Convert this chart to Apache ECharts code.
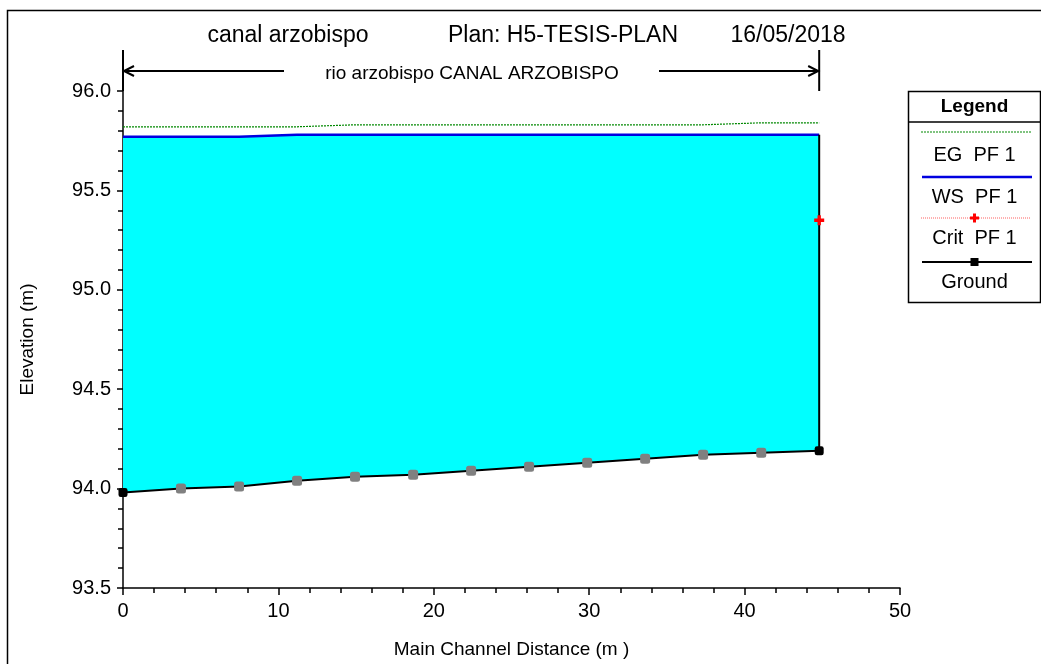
<!DOCTYPE html>
<html>
<head>
<meta charset="utf-8">
<script src="https://cdn.jsdelivr.net/npm/echarts@6/dist/echarts.min.js"></script>
<style>
html,body{margin:0;padding:0;background:#fff;}
#c{width:1041px;height:664px;}
</style>
</head>
<body>
<div id="c"></div>
<script>
// ---- data ----
const stations = [0, 3.73, 7.47, 11.2, 14.93, 18.67, 22.4, 26.13, 29.87, 33.6, 37.33, 41.07, 44.8];
const ground   = [93.98, 94.00, 94.01, 94.04, 94.06, 94.07, 94.09, 94.11, 94.13, 94.15, 94.17, 94.18, 94.19];
const wsPF1    = [95.77, 95.77, 95.77, 95.78, 95.78, 95.78, 95.78, 95.78, 95.78, 95.78, 95.78, 95.78, 95.78];
const egPF1    = [95.82, 95.82, 95.82, 95.82, 95.83, 95.83, 95.83, 95.83, 95.83, 95.83, 95.83, 95.84, 95.84];
const critStations = [44.8];
const critPF1  = [95.35];
const xTicks = [0, 10, 20, 30, 40, 50];
const yTicks = [93.5, 94.0, 94.5, 95.0, 95.5, 96.0];
const titleParts = ['canal arzobispo', 'Plan: H5-TESIS-PLAN', '16/05/2018'];
const reachLabel = 'rio arzobispo CANAL ARZOBISPO';
const legendTitle = 'Legend';
const legendNames = ['EG  PF 1', 'WS  PF 1', 'Crit  PF 1', 'Ground'];
const xName = 'Main Channel Distance (m )';
const yName = 'Elevation (m)';

const FONT = "'Liberation Sans', Arial, sans-serif";
const pairs = (xs, ys) => xs.map((x, i) => [x, ys[i]]);
const last = stations.length - 1;

const chart = echarts.init(document.getElementById('c'), null, {renderer: 'canvas'});

const groundData = stations.map((x, i) => {
  const endPt = (i === 0 || i === last);
  return {
    value: [x, ground[i]],
    symbolSize: endPt ? 9 : 10,
    itemStyle: {color: endPt ? '#000000' : '#808080', borderWidth: 0}
  };
});

// polygon of the water body: along water surface, back along ground
const waterPoly = pairs(stations, wsPF1).concat(pairs(stations, ground).reverse());

const option = {
  animation: false,
  backgroundColor: '#ffffff',
  textStyle: {fontFamily: FONT},
  grid: {left: 123, top: 91, right: 141, bottom: 75, containLabel: false},
  xAxis: {
    type: 'value', min: xTicks[0], max: xTicks[xTicks.length - 1], interval: 10,
    name: xName, nameLocation: 'middle', nameGap: 52,
    nameTextStyle: {fontFamily: FONT, fontSize: 19, color: '#000'},
    axisLine: {show: true, onZero: false, lineStyle: {color: '#000', width: 1.5}},
    axisTick: {show: true, length: 7, lineStyle: {color: '#000', width: 1.5}},
    minorTick: {show: true, splitNumber: 5, length: 5, lineStyle: {color: '#000', width: 1.5}},
    axisLabel: {fontFamily: FONT, fontSize: 20, color: '#000', margin: 13},
    splitLine: {show: false}
  },
  yAxis: {
    type: 'value', min: yTicks[0], max: yTicks[yTicks.length - 1], interval: 0.5,
    name: yName, nameLocation: 'middle', nameGap: 86, nameRotate: 90,
    nameTextStyle: {fontFamily: FONT, fontSize: 19, color: '#000'},
    axisLine: {show: true, onZero: false, lineStyle: {color: '#000', width: 1.5}},
    axisTick: {show: true, length: 6, lineStyle: {color: '#000', width: 1.5}},
    minorTick: {show: true, splitNumber: 5, length: 5, lineStyle: {color: '#000', width: 1.5}},
    axisLabel: {fontFamily: FONT, fontSize: 20, color: '#000', margin: 12,
      formatter: v => v.toFixed(1)},
    splitLine: {show: false}
  },
  series: [
    {
      name: 'water', type: 'custom', silent: true, z: 1,
      renderItem: function (params, api) {
        const pts = waterPoly.map(p => api.coord(p));
        return {type: 'polygon', shape: {points: pts}, style: {fill: '#00ffff', stroke: 'none'}};
      },
      data: [0]
    },
    {
      name: legendNames[0], type: 'line', data: pairs(stations, egPF1), symbol: 'none',
      lineStyle: {color: '#008800', width: 1.2, type: [2, 1]}, z: 3
    },
    {
      name: legendNames[1], type: 'line', data: pairs(stations, wsPF1), symbol: 'none',
      lineStyle: {color: '#0000e0', width: 2.5}, z: 4
    },
    {
      name: 'rightEdge', type: 'line',
      data: [[stations[last], ground[last]], [stations[last], wsPF1[last]]],
      symbol: 'none', lineStyle: {color: '#000', width: 2}, z: 4, silent: true
    },
    {
      name: legendNames[2], type: 'line', data: pairs(critStations, critPF1),
      symbol: 'path://M3,0h3v3h3v3h-3v3h-3v-3h-3v-3h3z', symbolSize: 10,
      showSymbol: true,
      itemStyle: {color: '#ff0000'},
      lineStyle: {color: '#ff0000', width: 1, type: [1, 1]}, z: 6
    },
    {
      name: legendNames[3], type: 'line', data: groundData,
      symbol: 'roundRect', showSymbol: true,
      lineStyle: {color: '#000', width: 2}, z: 5
    }
  ]
};
chart.setOption(option);

// ---- annotations (title, reach arrows, legend box, frame) ----
const pL = chart.convertToPixel({gridIndex: 0}, [stations[0], yTicks[yTicks.length - 1]]);
const pR = chart.convertToPixel({gridIndex: 0}, [stations[last], yTicks[yTicks.length - 1]]);
const arrowY = 71;
const blk = {stroke: '#000', lineWidth: 2};

function txt(x, y, t, size, extra) {
  return {type: 'text', x: x, y: y, z: 20,
    style: Object.assign({text: t, fontFamily: FONT, fontSize: size, fill: '#000',
      align: 'center', verticalAlign: 'middle'}, extra || {})};
}

const lgX0 = 908.5, lgX1 = 1040.5, lgTop = 91.5, lgBot = 302.5, lgC = (lgX0 + lgX1) / 2;
const lsx0 = 921, lsx1 = 1031;

const graphics = [
  {type: 'rect', shape: {x: 7.5, y: 10.5, width: 1100, height: 700}, style: {fill: 'none', stroke: '#000', lineWidth: 1.5}, z: 20},
  txt(288, 36, titleParts[0], 23),
  txt(563, 36, titleParts[1], 23),
  txt(788, 36, titleParts[2], 23),
  txt(472, 74, reachLabel, 19),
  {type: 'line', shape: {x1: pL[0], y1: 50, x2: pL[0], y2: pL[1]}, style: blk, z: 20},
  {type: 'line', shape: {x1: pR[0], y1: 50, x2: pR[0], y2: pR[1]}, style: blk, z: 20},
  {type: 'line', shape: {x1: pL[0], y1: arrowY, x2: 284, y2: arrowY}, style: blk, z: 20},
  {type: 'line', shape: {x1: 659, y1: arrowY, x2: pR[0], y2: arrowY}, style: blk, z: 20},
  {type: 'polyline', shape: {points: [[pL[0] + 11, arrowY - 5], [pL[0] + 1, arrowY], [pL[0] + 11, arrowY + 5]]}, style: {stroke: '#000', lineWidth: 2, fill: null}, z: 20},
  {type: 'polyline', shape: {points: [[pR[0] - 11, arrowY - 5], [pR[0] - 1, arrowY], [pR[0] - 11, arrowY + 5]]}, style: {stroke: '#000', lineWidth: 2, fill: null}, z: 20},
  {type: 'rect', shape: {x: lgX0, y: lgTop, width: lgX1 - lgX0, height: lgBot - lgTop}, style: {fill: '#fff', stroke: '#000', lineWidth: 1.5}, z: 20},
  {type: 'line', shape: {x1: lgX0, y1: 122, x2: lgX1, y2: 122}, style: {stroke: '#000', lineWidth: 1.5}, z: 21},
  txt(lgC, 107, legendTitle, 19, {fontWeight: 'bold'}),
  {type: 'line', shape: {x1: lsx0, y1: 132, x2: lsx1, y2: 132}, style: {stroke: '#008800', lineWidth: 1.2, lineDash: [2, 1]}, z: 21},
  txt(lgC, 155, legendNames[0], 20),
  {type: 'line', shape: {x1: lsx0 + 1, y1: 177, x2: lsx1 + 1, y2: 177}, style: {stroke: '#0000e0', lineWidth: 2.5}, z: 21},
  txt(lgC, 197, legendNames[1], 20),
  {type: 'line', shape: {x1: lsx0, y1: 218, x2: lsx1, y2: 218}, style: {stroke: '#ff6060', lineWidth: 1, lineDash: [1, 1]}, z: 21},
  {type: 'rect', shape: {x: lgC - 4.5, y: 216.5, width: 9, height: 3}, style: {fill: '#ff0000'}, z: 22},
  {type: 'rect', shape: {x: lgC - 1.5, y: 213.5, width: 3, height: 9}, style: {fill: '#ff0000'}, z: 22},
  txt(lgC, 238, legendNames[2], 20),
  {type: 'line', shape: {x1: lsx0 + 1, y1: 262, x2: lsx1 + 1, y2: 262}, style: {stroke: '#000', lineWidth: 2}, z: 21},
  {type: 'rect', shape: {x: lgC - 4, y: 258, width: 8, height: 8}, style: {fill: '#000'}, z: 22},
  txt(lgC, 282, legendNames[3], 20)
];
chart.setOption({graphic: graphics});
</script>
</body>
</html>
